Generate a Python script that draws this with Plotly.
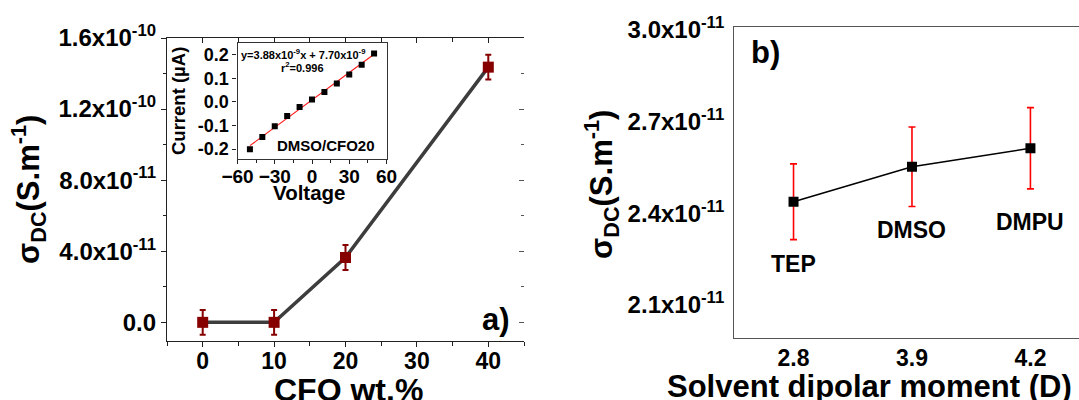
import plotly.graph_objects as go

# ---------------- data ----------------
cfo_wt = [0, 10, 20, 40]
sigma_cfo = [0.0, 0.0, 3.65e-11, 1.436e-10]
sigma_cfo_err = [7e-12, 7e-12, 7e-12, 7e-12]

inset_voltage = [-50, -40, -30, -20, -10, 0, 10, 20, 30, 40, 50]
inset_current = [-0.200, -0.148, -0.103, -0.059, -0.021, 0.010, 0.042, 0.078, 0.117, 0.158, 0.205]
fit_voltage = [-50, 50]
fit_current = [-0.185, 0.202]

dipole_labels = ["2.8", "3.9", "4.2"]
solvent_names = ["TEP", "DMSO", "DMPU"]
sigma_solvent = [2.438e-11, 2.5525e-11, 2.613e-11]
sigma_solvent_err = [1.24e-12, 1.30e-12, 1.33e-12]
solvent_label_shift = [-62, -63, -74]

a_ytick_vals = [0, 4e-11, 8e-11, 1.2e-10, 1.6e-10]
a_ytick_text = ["0.0", "4.0x10<sup>-11</sup>", "8.0x10<sup>-11</sup>",
                "1.2x10<sup>-10</sup>", "1.6x10<sup>-10</sup>"]
a_xtick_vals = [0, 10, 20, 30, 40]
b_ytick_vals = [2.1e-11, 2.4e-11, 2.7e-11, 3.0e-11]
b_ytick_text = ["2.1x10<sup>-11</sup>", "2.4x10<sup>-11</sup>",
                "2.7x10<sup>-11</sup>", "3.0x10<sup>-11</sup>"]

FONT = "Liberation Sans, Arial, sans-serif"
W, H = 1079, 400
AXC = "#222222"

def px_x(p):
    return p / W

def px_y(p):
    return 1 - p / H

fig = go.Figure()

# ---- panel a ----
fig.add_trace(go.Scatter(
    x=cfo_wt, y=sigma_cfo, mode="lines",
    line=dict(color="#3d3d3d", width=3.5), xaxis="x", yaxis="y",
    hoverinfo="skip", showlegend=False))
fig.add_trace(go.Scatter(
    x=cfo_wt, y=sigma_cfo, mode="markers",
    marker=dict(symbol="square", size=11, color="#860000"),
    error_y=dict(type="data", array=sigma_cfo_err, color="#860000", thickness=2, width=3),
    xaxis="x", yaxis="y", showlegend=False))
# dummy traces for mirrored tick axes
fig.add_trace(go.Scatter(x=[], y=[], xaxis="x2", yaxis="y", showlegend=False))
fig.add_trace(go.Scatter(x=[], y=[], xaxis="x", yaxis="y2", showlegend=False))

# ---- inset ----
fig.add_trace(go.Scatter(
    x=fit_voltage, y=fit_current, mode="lines",
    line=dict(color="#ff1a1a", width=1.2), xaxis="x3", yaxis="y3", showlegend=False))
fig.add_trace(go.Scatter(
    x=inset_voltage, y=inset_current, mode="markers",
    marker=dict(symbol="square", size=6, color="black"),
    xaxis="x3", yaxis="y3", showlegend=False))

# ---- panel b ----
fig.add_trace(go.Scatter(
    x=dipole_labels, y=sigma_solvent, mode="lines+markers",
    line=dict(color="black", width=1.6),
    marker=dict(symbol="square", size=10, color="black"),
    error_y=dict(type="data", array=sigma_solvent_err, color="#ff0000", thickness=1.6, width=3.5),
    xaxis="x4", yaxis="y4", showlegend=False))

ytickfont = dict(family=FONT, size=24, color="black", weight="bold")
xtickfont = dict(family=FONT, size=23, color="black", weight="bold")
inset_font = dict(family=FONT, size=18, color="black", weight="bold")

layout = dict(
    width=W, height=H, autosize=False,
    margin=dict(l=0, r=0, t=0, b=0, pad=0, autoexpand=False),
    paper_bgcolor="white", plot_bgcolor="white",
    showlegend=False,
    xaxis=dict(domain=[px_x(167), px_x(524)], anchor="y", range=[-5, 45],
               tickmode="array", tickvals=a_xtick_vals, ticks="outside", ticklen=5,
               tickcolor=AXC, showline=True, linecolor=AXC, linewidth=1.2,
               showgrid=False, zeroline=False, tickfont=xtickfont, automargin=False,
               ticklabelstandoff=-6,
               minor=dict(tickmode="linear", tick0=5, dtick=10, ticks="outside",
                          ticklen=4, tickcolor=AXC)),
    xaxis2=dict(overlaying="x", side="top", anchor="y", range=[-5, 45],
                tickmode="array", tickvals=a_xtick_vals, ticks="inside", ticklen=5,
                tickcolor=AXC, showline=True, linecolor=AXC, linewidth=1.2,
                showgrid=False, zeroline=False, showticklabels=False, automargin=False,
                minor=dict(tickmode="linear", tick0=5, dtick=10, ticks="inside",
                           ticklen=4, tickcolor=AXC)),
    yaxis=dict(domain=[px_y(341), px_y(38)], anchor="x", range=[-1.05e-11, 1.6e-10],
               tickmode="array", tickvals=a_ytick_vals, ticktext=a_ytick_text,
               ticks="outside", ticklen=5, tickcolor=AXC, showline=True,
               linecolor=AXC, linewidth=1.2, showgrid=False, zeroline=False,
               tickfont=ytickfont, automargin=False,
               minor=dict(tickmode="linear", tick0=0, dtick=2e-11, ticks="outside",
                          ticklen=3, tickcolor=AXC)),
    yaxis2=dict(overlaying="y", side="right", anchor="x", range=[-1.05e-11, 1.6e-10],
                tickmode="array", tickvals=a_ytick_vals, ticks="inside", ticklen=5,
                tickcolor="#555555", showline=False, showgrid=False, zeroline=False,
                showticklabels=False, automargin=False,
                minor=dict(tickmode="linear", tick0=0, dtick=2e-11, ticks="inside",
                           ticklen=3, tickcolor="#555555")),
    xaxis3=dict(domain=[px_x(237.5), px_x(386.5)], anchor="y3", range=[-60, 60],
                tickmode="array", tickvals=[-60, -30, 0, 30, 60], ticks="outside",
                ticklen=4, tickcolor=AXC, showline=True, mirror=True, linecolor="#333333",
                linewidth=1.2, showgrid=False, zeroline=False, automargin=False,
                ticklabelstandoff=-4,
                tickfont=dict(family=FONT, size=19, color="black", weight="bold"),
                minor=dict(tickmode="linear", tick0=-45, dtick=30, ticks="outside",
                           ticklen=3, tickcolor=AXC)),
    yaxis3=dict(domain=[px_y(159.3), px_y(43)], anchor="x3", range=[-0.243, 0.25],
                tickmode="array", tickvals=[-0.2, -0.1, 0.0, 0.1, 0.2],
                ticktext=["-0.2", "-0.1", "0.0", "0.1", "0.2"],
                ticks="outside", ticklen=4, tickcolor=AXC, showline=True, mirror=True,
                linecolor="#333333", linewidth=1.2, showgrid=False, zeroline=False,
                tickfont=inset_font, automargin=False),
    xaxis4=dict(domain=[px_x(734.3), 1.0], anchor="y4", range=[-0.5, 2.41],
                type="category", ticks="", showline=True, mirror=True,
                linecolor="#555555", linewidth=1.3, showgrid=False, zeroline=False,
                tickfont=xtickfont, automargin=False),
    yaxis4=dict(domain=[px_y(337.7), px_y(26.7)], anchor="x4", range=[1.993e-11, 3.011e-11],
                tickmode="array", tickvals=b_ytick_vals, ticktext=b_ytick_text,
                ticks="", showline=True, linecolor="#555555", linewidth=1.3,
                showgrid=False, zeroline=False, tickfont=ytickfont, automargin=False,
                ticklabelstandoff=4),
)
fig.update_layout(**layout)

def bold(size):
    return dict(family=FONT, size=size, color="black", weight="bold")

annots = [
    # panel a titles
    dict(text="σ<sub>DC</sub>(S.m<sup>-1</sup>)", x=px_x(28), y=px_y(190), textangle=-90,
         font=bold(31)),
    dict(text="CFO wt.%", x=px_x(348), y=px_y(390), font=bold(32)),
    dict(text="a)", x=px_x(496), y=px_y(319), font=bold(31)),
    # inset texts
    dict(text="Current (µA)", x=px_x(179), y=px_y(101), textangle=-90, font=bold(18.5)),
    dict(text="Voltage", x=px_x(309), y=px_y(192), font=bold(20.5)),
    dict(text="y=3.88x10<sup>-9</sup>x + 7.70x10<sup>-9</sup>", x=px_x(302.7), y=px_y(54),
         font=bold(11)),
    dict(text="r<sup>2</sup>=0.996", x=px_x(302.3), y=px_y(67.3), font=bold(11)),
    dict(text="DMSO/CFO20", x=px_x(325.7), y=px_y(145), font=bold(15)),
    # panel b titles
    dict(text="σ<sub>DC</sub>(S.m<sup>-1</sup>)", x=px_x(601), y=px_y(185), textangle=-90,
         font=bold(31)),
    dict(text="Solvent dipolar moment (D)", x=px_x(869), y=px_y(386), font=bold(31)),
    dict(text="b)", x=px_x(765), y=px_y(52), font=bold(31)),
]
annotations = []
for a in annots:
    a.update(xref="paper", yref="paper", showarrow=False, xanchor="center", yanchor="middle")
    annotations.append(a)

for i, (name, yv, sh) in enumerate(zip(solvent_names, sigma_solvent, solvent_label_shift)):
    annotations.append(dict(text=name, x=i, y=yv, xref="x4", yref="y4", yshift=sh,
                            showarrow=False, xanchor="center", yanchor="middle",
                            font=bold(23)))

fig.update_layout(annotations=annotations)
fig.write_html("out.html")
